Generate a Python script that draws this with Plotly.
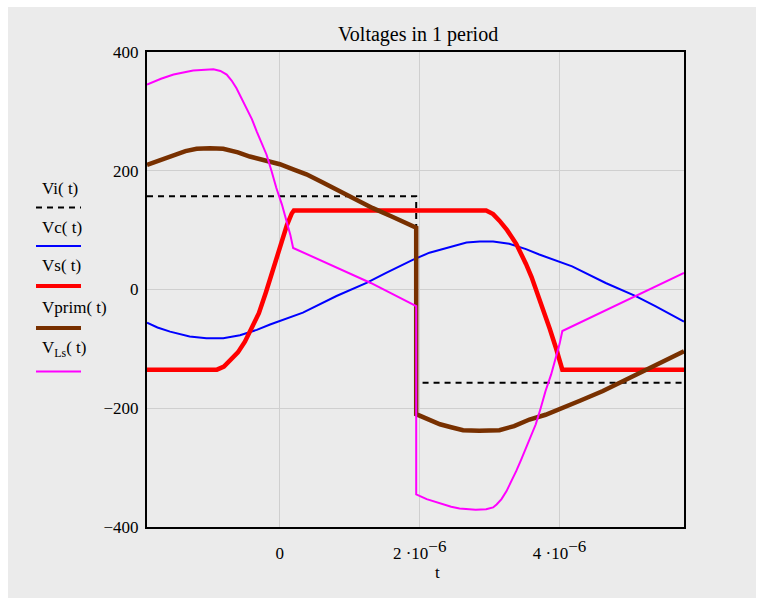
import numpy as np
import plotly.graph_objects as go

# ---- data (time in microseconds, voltage in volts) ----
t_vi = [-1.9, 1.95, 1.95, 5.78]
v_vi = [157, 157, -157, -157]

t_vc = [-1.9, -1.75, -1.57, -1.29, -1.05, -0.81, -0.57, -0.33, -0.14, 0, 0.33, 0.81, 1.24, 1.52, 1.9,
        2.14, 2.43, 2.67, 2.86, 3.05, 3.28, 3.52, 3.71, 3.85, 4.18, 4.66, 5.09, 5.37, 5.6, 5.78]
v_vc = [-56, -64, -71, -79, -82, -82, -77, -68, -59, -53, -39, -11, 11, 28, 50,
        62, 72, 79, 81, 81, 77, 68, 59, 53, 39, 11, -11, -28, -42, -54]

t_vs = [-1.9, -0.9, -0.8, -0.7, -0.6, -0.5, -0.4, -0.3, -0.2, -0.1, 0.0, 0.1, 0.17, 0.2,
        2.95, 3.05, 3.14, 3.25, 3.38, 3.45, 3.52, 3.6, 3.71, 3.79, 3.86, 3.95, 4.0, 4.04, 5.78]
v_vs = [-135, -135, -130, -119, -106, -88, -64, -40, -5, 33, 72, 108, 128, 133,
        133, 127, 116, 100, 77, 61, 43, 21, -14, -40, -66, -99, -118, -135, -135]

t_vprim = [-1.9, -1.7, -1.52, -1.35, -1.19, -1.0, -0.81, -0.6, -0.43, -0.2, 0, 0.2, 0.38, 0.6,
           0.86, 1.1, 1.33, 1.6, 1.81, 1.95,
           1.95, 2.1, 2.29, 2.45, 2.62, 2.85, 3.14, 3.35, 3.57, 3.8, 4.0, 4.3, 4.62, 4.93,
           5.24, 5.5, 5.78]
v_vprim = [210, 219, 227, 233, 237, 238, 237, 231, 224, 218, 211, 202, 194, 181,
           165, 151, 137, 123, 112, 104,
           -210, -218, -227, -232, -237, -238, -237, -230, -219, -211, -202, -187, -171, -153,
           -135, -120, -104]

t_vls = [-1.9, -1.7, -1.52, -1.24, -0.95, -0.85, -0.76, -0.69, -0.62, -0.55, -0.48, -0.4,
         -0.33, -0.26, -0.19, -0.12, -0.05, 0.03, 0.1, 0.15, 0.19, 1.3, 1.95,
         1.95, 2.1, 2.29, 2.45, 2.57, 2.8, 2.95, 3.05, 3.1, 3.17, 3.24, 3.31, 3.38, 3.45,
         3.52, 3.59, 3.66, 3.73, 3.8, 3.88, 3.95, 4.0, 4.04, 5.78]
v_vls = [345, 355, 362, 369, 371, 368, 362, 352, 339, 323, 306, 287,
         266, 247, 227, 200, 171, 143, 115, 92, 70, 11, -28,
         -345, -353, -360, -366, -369, -371, -370, -367, -362, -353, -340, -324, -306, -287,
         -267, -247, -227, -200, -171, -143, -115, -92, -70, 28]

x_ticks = [0, 2e-6, 4e-6]
SUP = '<sup><span style="font-size:17px">−6</span></sup>'
x_ticktext = ["0", "2 ·10" + SUP, "4 ·10" + SUP]
y_ticks = [-400, -200, 0, 200, 400]
y_ticktext = ["−400", "−200", "0", "200", "400"]

names = ["Vi( t)", "Vc( t)", "Vs( t)", "Vprim( t)", "V<sub>Ls</sub>( t)"]
colors = ["black", "#0000ff", "#ff0000", "#783000", "#ff00ff"]
widths = [2, 2, 4.5, 4.5, 2]
dashes = ["6px,5px", "solid", "solid", "solid", "solid"]
series = [(t_vi, v_vi), (t_vc, v_vc), (t_vs, v_vs), (t_vprim, v_vprim), (t_vls, v_vls)]

US = 1e-6
FONT = "Liberation Serif"

# ---- layout geometry (pixels) ----
W, H = 759, 598
L, R, T, B = 147, 684, 52, 527


def pxx(xp):
    return (xp - L) / (R - L)


def pxy(yp):
    return (B - yp) / (B - T)


fig = go.Figure()
for (tt, vv), c, w, d in zip(series, colors, widths, dashes):
    fig.add_trace(go.Scatter(
        x=np.array(tt) * US, y=vv, mode="lines",
        line=dict(color=c, width=w, dash=d),
        showlegend=False, hoverinfo="skip"))

shapes = [dict(type="rect", xref="paper", yref="paper", layer="below",
               x0=pxx(8), x1=pxx(756), y0=pxy(7), y1=pxy(600),
               fillcolor="#ebebeb", line=dict(width=0))]

annotations = [
    dict(text="Voltages in 1 period", xref="paper", yref="paper",
         x=pxx(417.5), y=pxy(34), xanchor="center", yanchor="middle",
         showarrow=False, font=dict(family=FONT, size=20, color="black")),
    dict(text="t", xref="paper", yref="paper",
         x=pxx(437), y=pxy(572), xanchor="center", yanchor="middle",
         showarrow=False, font=dict(family=FONT, size=17, color="black")),
]

leg_text_y = [188, 227, 265, 307, 349]
leg_line_y = [207.5, 246, 286, 328, 371.5]
for name, c, w, d, ty, ly in zip(names, colors, widths, dashes, leg_text_y, leg_line_y):
    annotations.append(dict(text=name, xref="paper", yref="paper",
                            x=pxx(40), y=pxy(ty), xanchor="left", yanchor="middle",
                            showarrow=False,
                            font=dict(family=FONT, size=17, color="black")))
    shapes.append(dict(type="line", xref="paper", yref="paper",
                       x0=pxx(36), x1=pxx(81), y0=pxy(ly), y1=pxy(ly),
                       line=dict(color=c, width=w if w < 3 else 4, dash=d)))

fig.update_layout(
    width=W, height=H,
    margin=dict(l=L, r=W - R, t=T, b=H - B, pad=0),
    paper_bgcolor="white", plot_bgcolor="#ebebeb",
    font=dict(family=FONT, size=17, color="black"),
    shapes=shapes, annotations=annotations,
    showlegend=False,
)
fig.update_xaxes(range=[-1.9 * US, 5.78 * US], tickvals=x_ticks, ticktext=x_ticktext,
                 showgrid=True, gridcolor="#cfcfcf", gridwidth=1, zeroline=False,
                 showline=True, mirror=True, linecolor="black", linewidth=2,
                 ticks="", ticklabelstandoff=10,
                 tickfont=dict(family=FONT, size=17, color="black"))
fig.update_yaxes(range=[-400, 400], tickvals=y_ticks, ticktext=y_ticktext,
                 showgrid=True, gridcolor="#cfcfcf", gridwidth=1, zeroline=False,
                 showline=True, mirror=True, linecolor="black", linewidth=2,
                 ticks="", ticklabelstandoff=3,
                 tickfont=dict(family=FONT, size=17, color="black"))

fig.write_html("out.html")
